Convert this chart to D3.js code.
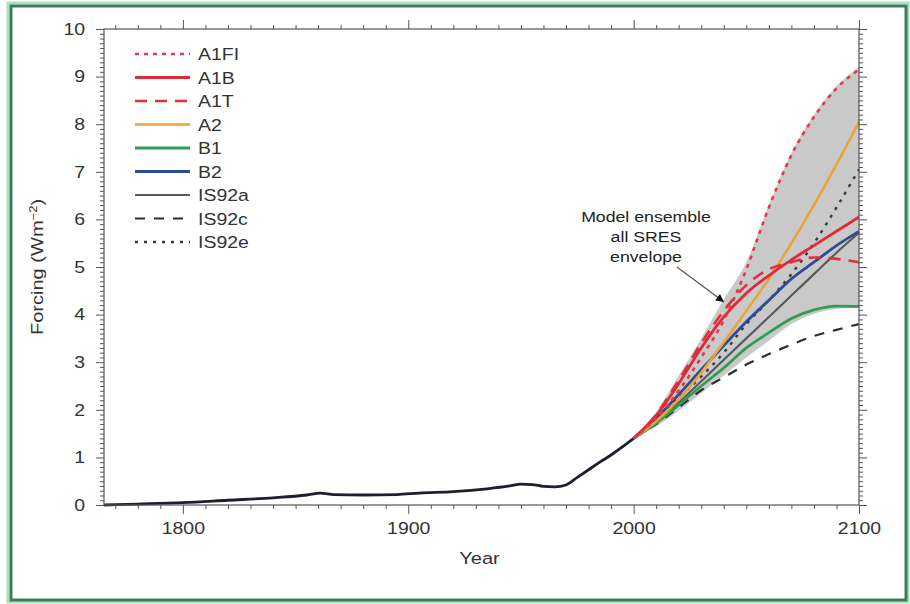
<!DOCTYPE html>
<html>
<head>
<meta charset="utf-8">
<script src="https://cdn.jsdelivr.net/npm/d3@7"></script>
<style>
  body { margin: 0; background: #fff; }
  svg { display: block; font-family: "Liberation Sans", Arial, Helvetica, sans-serif; }
</style>
</head>
<body>
<div id="vis"></div>
<script>
// Observed forcing, 1765 to 2000
const histYears = [1765, 1780, 1800, 1820, 1840, 1855, 1861, 1867, 1880, 1895, 1905, 1920, 1935, 1945, 1950, 1955, 1960, 1965, 1970, 1975, 1980, 1985, 1990, 1995, 2000];
const histForcing = [0.00, 0.02, 0.05, 0.10, 0.15, 0.21, 0.25, 0.22, 0.21, 0.22, 0.25, 0.28, 0.34, 0.40, 0.44, 0.43, 0.39, 0.38, 0.42, 0.58, 0.74, 0.90, 1.05, 1.22, 1.40];

// Scenario years
const futureYears = [2000, 2010, 2020, 2030, 2040, 2050, 2060, 2070, 2080, 2090, 2100];

// Scenario forcing (W m-2)
const a1fi  = [1.40, 1.82, 2.40, 3.10, 3.88, 4.95, 6.25, 7.35, 8.15, 8.75, 9.15];
const a1b   = [1.40, 1.88, 2.55, 3.30, 3.95, 4.45, 4.82, 5.15, 5.45, 5.75, 6.05];
const a1t   = [1.40, 1.90, 2.62, 3.40, 4.08, 4.62, 4.95, 5.10, 5.20, 5.17, 5.10];
const a2    = [1.40, 1.76, 2.22, 2.78, 3.42, 4.08, 4.75, 5.50, 6.30, 7.15, 8.05];
const b1    = [1.40, 1.72, 2.10, 2.50, 2.88, 3.30, 3.62, 3.92, 4.10, 4.18, 4.17];
const b2    = [1.40, 1.82, 2.32, 2.84, 3.35, 3.85, 4.30, 4.75, 5.10, 5.45, 5.75];
const is92a = [1.40, 1.75, 2.15, 2.60, 3.05, 3.50, 3.95, 4.40, 4.85, 5.30, 5.72];
const is92c = [1.40, 1.70, 2.05, 2.41, 2.68, 2.95, 3.17, 3.37, 3.55, 3.68, 3.80];
const is92e = [1.40, 1.80, 2.25, 2.70, 3.20, 3.80, 4.30, 4.85, 5.50, 6.25, 7.05];

// Model ensemble envelope, all SRES
const envUpper = [1.40, 1.95, 2.72, 3.50, 4.32, 5.10, 6.30, 7.40, 8.20, 8.80, 9.20];
const envLower = [1.40, 1.65, 1.98, 2.35, 2.72, 3.10, 3.45, 3.80, 4.02, 4.12, 4.15];

const scenarioNames = ['A1FI', 'A1B', 'A1T', 'A2', 'B1', 'B2', 'IS92a', 'IS92c', 'IS92e'];
const scenarioValues = [a1fi, a1b, a1t, a2, b1, b2, is92a, is92c, is92e];

// Axis ticks
const yearTicks = [1800, 1900, 2000, 2100];
const forcingTicks = [0, 1, 2, 3, 4, 5, 6, 7, 8, 9, 10];

const width = 910;
const height = 604;
const margin = { top: 29, right: 51, bottom: 99, left: 104 };
const plotW = width - margin.left - margin.right;
const plotH = height - margin.top - margin.bottom;

// line styles per scenario
const styles = {
  'A1FI':  { color: '#e23a48', dash: '4,5',  w: 2.6 },
  'A1B':   { color: '#de2a36', dash: null,   w: 2.8 },
  'A1T':   { color: '#e0303c', dash: '12,8', w: 2.6 },
  'A2':    { color: '#e9a43c', dash: null,   w: 2.6 },
  'B1':    { color: '#2f9e55', dash: null,   w: 2.8 },
  'B2':    { color: '#2d4c94', dash: null,   w: 2.8 },
  'IS92a': { color: '#5a5a5a', dash: null,   w: 2.2 },
  'IS92c': { color: '#2e2e2e', dash: '10,9', w: 2.2 },
  'IS92e': { color: '#3a3a3a', dash: '3,6',  w: 2.4 }
};

const textStretch = 'scale(1.18,1)';

const svg = d3.select('#vis').append('svg')
  .attr('width', width)
  .attr('height', height);

// green frame round the figure
svg.append('rect')
  .attr('x', 8).attr('y', 3).attr('width', 900).attr('height', 599)
  .attr('fill', 'none').attr('stroke', '#a6e3bd').attr('stroke-width', 3);
svg.append('rect')
  .attr('x', 11).attr('y', 6).attr('width', 895).attr('height', 594)
  .attr('fill', 'none').attr('stroke', '#3e7c57').attr('stroke-width', 3);

const g = svg.append('g').attr('transform', `translate(${margin.left},${margin.top})`);

const x = d3.scaleLinear().domain([1765, 2100]).range([0, plotW]);
const y = d3.scaleLinear().domain([0, 10]).range([plotH, 0]);

// envelope
const envData = futureYears.map((yr, i) => ({ yr: yr, lo: envLower[i], hi: envUpper[i] }));
g.append('path')
  .datum(envData)
  .attr('fill', '#c9c9c9')
  .attr('d', d3.area()
    .x(d => x(d.yr))
    .y0(d => y(d.lo))
    .y1(d => y(d.hi))
    .curve(d3.curveMonotoneX));

// observed forcing
const line = d3.line()
  .x(d => x(d[0]))
  .y(d => y(d[1]))
  .curve(d3.curveMonotoneX);

g.append('path')
  .datum(histYears.map((yr, i) => [yr, histForcing[i]]))
  .attr('fill', 'none')
  .attr('stroke', '#1c1f2e')
  .attr('stroke-width', 2.8)
  .attr('d', line);

// scenarios, drawn so the reds end on top
const drawOrder = ['IS92c', 'IS92a', 'B1', 'IS92e', 'B2', 'A2', 'A1T', 'A1B', 'A1FI'];
drawOrder.forEach(name => {
  const vals = scenarioValues[scenarioNames.indexOf(name)];
  const st = styles[name];
  g.append('path')
    .datum(futureYears.map((yr, i) => [yr, vals[i]]))
    .attr('fill', 'none')
    .attr('stroke', st.color)
    .attr('stroke-width', st.w)
    .attr('stroke-dasharray', st.dash)
    .attr('d', line);
});

// axes: major and minor ticks on all four sides
const minorYears = d3.range(1770, 2100, 10).filter(v => v % 100 !== 0);
const minorForcing = d3.range(0, 100).map(v => v / 10).filter(v => Math.abs(v - Math.round(v)) > 1e-6);

function styleAxis(sel) {
  sel.select('.domain').remove();
  sel.selectAll('line').attr('stroke', '#555').attr('stroke-width', 1);
  sel.selectAll('text')
    .attr('fill', '#333')
    .attr('font-size', '16.5px')
    .attr('transform', textStretch);
}

g.append('g').attr('transform', `translate(0,${plotH})`)
  .call(d3.axisBottom(x).tickValues(minorYears).tickSize(4).tickFormat(''))
  .call(styleAxis);
g.append('g').attr('transform', `translate(0,${plotH})`)
  .call(d3.axisBottom(x).tickValues(yearTicks).tickSize(9).tickPadding(8).tickFormat(d3.format('d')))
  .call(styleAxis);
g.append('g')
  .call(d3.axisTop(x).tickValues(minorYears).tickSize(4).tickFormat(''))
  .call(styleAxis);
g.append('g')
  .call(d3.axisTop(x).tickValues(yearTicks).tickSize(9).tickFormat(''))
  .call(styleAxis);

g.append('g')
  .call(d3.axisLeft(y).tickValues(minorForcing).tickSize(4).tickFormat(''))
  .call(styleAxis);
g.append('g')
  .call(d3.axisLeft(y).tickValues(forcingTicks).tickSize(8).tickPadding(8).tickFormat(d3.format('d')))
  .call(styleAxis);
g.append('g').attr('transform', `translate(${plotW},0)`)
  .call(d3.axisRight(y).tickValues(minorForcing).tickSize(4).tickFormat(''))
  .call(styleAxis);
g.append('g').attr('transform', `translate(${plotW},0)`)
  .call(d3.axisRight(y).tickValues(forcingTicks).tickSize(8).tickFormat(''))
  .call(styleAxis);

// plot box
g.append('rect')
  .attr('width', plotW).attr('height', plotH)
  .attr('fill', 'none').attr('stroke', '#555').attr('stroke-width', 1.2);

// axis titles
svg.append('text')
  .attr('transform', `translate(${margin.left + plotW * 0.5 - 2},${margin.top + plotH + 59}) ${textStretch}`)
  .attr('text-anchor', 'middle')
  .attr('fill', '#333')
  .attr('font-size', '17px')
  .text('Year');

const yTitle = svg.append('text')
  .attr('transform', `translate(43,267) rotate(-90) ${textStretch}`)
  .attr('text-anchor', 'middle')
  .attr('fill', '#333')
  .attr('font-size', '17px');
yTitle.append('tspan').text('Forcing (Wm');
yTitle.append('tspan').attr('font-size', '11px').attr('dy', '-6').text('\u22122');
yTitle.append('tspan').attr('dy', '6').text(')');

// legend
const legend = svg.append('g').attr('transform', 'translate(135,54)');
scenarioNames.forEach((name, i) => {
  const st = styles[name];
  const row = legend.append('g').attr('transform', `translate(0,${i * 23.5})`);
  row.append('line')
    .attr('x1', 0).attr('x2', 55)
    .attr('stroke', st.color)
    .attr('stroke-width', st.w)
    .attr('stroke-dasharray', st.dash);
  row.append('text')
    .attr('transform', `translate(63,6) ${textStretch}`)
    .attr('fill', '#333')
    .attr('font-size', '16.5px')
    .text(name);
});

// annotation with arrow
const note = svg.append('g');
['Model ensemble', 'all SRES', 'envelope'].forEach((t, i) => {
  note.append('text')
    .attr('transform', `translate(646,${222 + i * 20}) ${textStretch}`)
    .attr('text-anchor', 'middle')
    .attr('fill', '#222')
    .attr('font-size', '15px')
    .text(t);
});
svg.append('defs').append('marker')
  .attr('id', 'head')
  .attr('viewBox', '0 0 10 10')
  .attr('refX', 10).attr('refY', 5)
  .attr('markerWidth', 10).attr('markerHeight', 8)
  .attr('markerUnits', 'userSpaceOnUse')
  .attr('orient', 'auto')
  .append('path').attr('d', 'M0,0 L10,5 L0,10 z').attr('fill', '#111');
svg.append('line')
  .attr('x1', 677).attr('y1', 267)
  .attr('x2', 724).attr('y2', 302)
  .attr('stroke', '#555').attr('stroke-width', 1.2)
  .attr('marker-end', 'url(#head)');
</script>
</body>
</html>
